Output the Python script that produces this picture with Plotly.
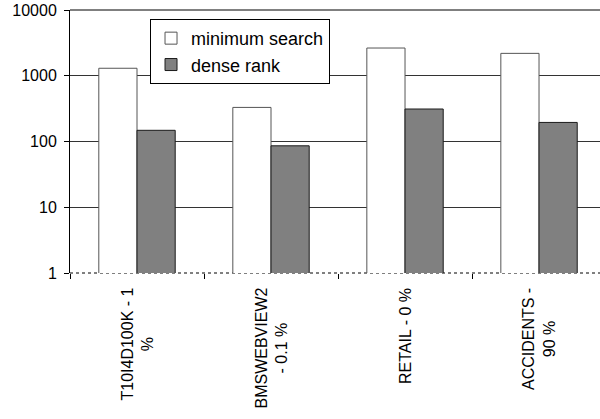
import plotly.graph_objects as go

categories = ["T10I4D100K - 1<br>%", "BMSWEBVIEW2<br>- 0.1 %", "RETAIL - 0 %", "ACCIDENTS -<br>90 %"]
minimum_search = [1300, 330, 2640, 2190]
dense_rank = [148, 86, 312, 195]
y_ticks = [1, 10, 100, 1000, 10000]

FONT = "Arial, Liberation Sans, sans-serif"

fig = go.Figure()
fig.add_trace(go.Bar(
    x=list(range(len(categories))), y=minimum_search, name="minimum search",
    marker=dict(color="white", line=dict(color="#555555", width=1)),
))
fig.add_trace(go.Bar(
    x=list(range(len(categories))), y=dense_rank, name="dense rank",
    marker=dict(color="#808080", line=dict(color="#1a1a1a", width=1)),
))

# category labels, rotated and centred under each group
for i, label in enumerate(categories):
    fig.add_annotation(
        x=i, xref="x", y=0, yref="paper", yanchor="top", xanchor="center",
        yshift=-13, text=label, textangle=-90, showarrow=False, align="center",
        font=dict(family=FONT, size=16, color="black"),
    )

# solid frame line along the top of the plot
fig.add_shape(type="line", xref="paper", yref="paper", x0=0, x1=1, y0=1, y1=1,
              line=dict(color="black", width=1))
# dotted baseline at the bottom
fig.add_shape(type="line", xref="paper", yref="paper", x0=0, x1=1, y0=0, y1=0,
              line=dict(color="black", width=1, dash="dot"), layer="below")

fig.update_layout(
    width=600, height=419,
    margin=dict(l=70, r=0, t=10, b=146),
    paper_bgcolor="white", plot_bgcolor="white",
    barmode="group", bargap=0.43, bargroupgap=0,
    font=dict(family=FONT, size=16, color="black"),
    showlegend=True,
    legend=dict(
        x=0.151, y=0.966, xanchor="left", yanchor="top",
        bordercolor="black", borderwidth=1, bgcolor="white",
        font=dict(family=FONT, size=18, color="black"),
        tracegroupgap=0, itemwidth=30,
    ),
    xaxis=dict(
        range=[-0.5, 3.455], tickmode="array",
        tickvals=[-0.5, 0.5, 1.5, 2.5], showticklabels=False,
        ticks="outside", ticklen=5, tickcolor="black",
        showgrid=False, showline=False, zeroline=False,
    ),
    yaxis=dict(
        type="log", range=[0, 4], tickmode="array",
        tickvals=y_ticks, ticktext=[str(v) for v in y_ticks],
        ticks="outside", ticklen=5, tickcolor="black",
        ticklabelstandoff=4,
        showline=True, linecolor="black", linewidth=1,
        showgrid=True, gridcolor="#333333", gridwidth=1,
        tickfont=dict(family=FONT, size=16, color="black"),
    ),
)

fig.write_html("out.html")
